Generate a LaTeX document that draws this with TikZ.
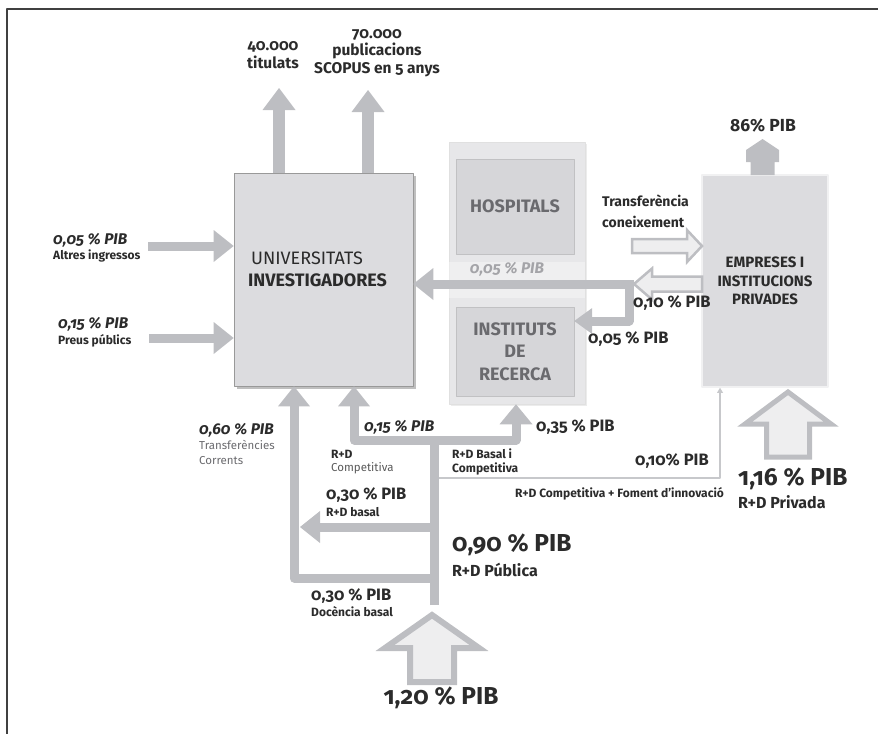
\documentclass[tikz,border=0pt]{standalone}
\usepackage{fontspec}
\setmainfont{Fira Sans}[Numbers=OldStyle]
\usetikzlibrary{arrows.meta,positioning,shadows}

\definecolor{flowgray}{HTML}{BDBEC2}
\definecolor{boxgray}{HTML}{DCDCDF}
\definecolor{palegray}{HTML}{EEEEEF}
\definecolor{colgray}{HTML}{E7E7E9}
\definecolor{innergray}{HTML}{D6D6D9}
\definecolor{ink}{HTML}{2B2B2B}
\definecolor{softink}{HTML}{6A6A6E}
\definecolor{faded}{HTML}{A4A4A8}

\tikzstyle{flow}=[draw=flowgray, line width=9pt, -{Triangle[width=32pt,length=20pt,line width=0pt]}]
\tikzstyle{flowboth}=[flow, {Triangle[width=32pt,length=20pt,line width=0pt]}-{Triangle[width=33pt,length=20pt,line width=0pt]}]
\tikzstyle{outflow}=[draw=flowgray, line width=12pt, -{Triangle[width=33pt,length=22pt,line width=0pt]}]
\tikzstyle{link}=[draw=flowgray!85, line width=1.8pt, -{Triangle[width=6pt,length=5pt,line width=0pt]}]
\tikzstyle{hollow}=[draw=flowgray, fill=palegray, line width=2.5pt, line join=miter]
\tikzstyle{unibox}=[draw=black!40, fill=boxgray, line width=.7pt, inner sep=0pt,
  minimum width=179pt, minimum height=213pt,
  drop shadow={shadow xshift=2.5pt, shadow yshift=-2.5pt, opacity=.5}]
\tikzstyle{colbox}=[draw=black!12, fill=colgray, line width=.6pt, inner sep=0pt,
  minimum width=136pt, minimum height=262pt,
  drop shadow={shadow xshift=2pt, shadow yshift=-2pt, opacity=.15}]
\tikzstyle{innerbox}=[fill=innergray, draw=innergray!90!black, line width=.4pt,
  minimum width=118pt, text=softink, align=center,
  font=\bfseries\fontsize{18}{22.5}\selectfont]
\tikzstyle{empbox}=[draw=colgray!60!white, fill=boxgray, line width=1.5pt,
  minimum width=126pt, minimum height=212pt, align=center, text=ink,
  font=\bfseries\fontsize{15}{18.5}\selectfont]
\tikzstyle{bigval}=[inner sep=0pt, text=ink, font=\bfseries\fontsize{24.5}{28}\selectfont]
\tikzstyle{midval}=[inner sep=0pt, text=ink, font=\bfseries\fontsize{16}{19}\selectfont]
\tikzstyle{val}=[inner sep=0pt, text=ink, font=\bfseries\fontsize{16.5}{19}\selectfont]
\tikzstyle{ival}=[inner sep=0pt, text=ink, font=\bfseries\itshape\fontsize{15.5}{18}\selectfont]
\tikzstyle{note}=[inner sep=0pt, text=ink, align=left, font=\bfseries\fontsize{12}{13.5}\selectfont]
\tikzstyle{lighttext}=[inner sep=0pt, text=softink, align=left, font=\fontsize{11.5}{15}\selectfont]
\tikzstyle{toplabel}=[inner sep=0pt, text=ink, align=center, font=\bfseries\fontsize{15.5}{17.5}\selectfont]

\begin{document}
\begin{tikzpicture}[x=1pt, y=-1pt, line join=round]
\useasboundingbox (0,0) rectangle (878,734);
\draw[draw=black!75, line width=1.6pt] (878,9) -- (7,9) -- (7,734);

% boxes
\node[unibox] (univ) at (323.5,279.5) {};
\node[anchor=west, inner sep=0pt, align=left, text=ink,
  font=\fontsize{18}{22}\selectfont] (univtxt) at (248,269)
  {\,UNIVERSITATS\\\textbf{INVESTIGADORES}};
\node[colbox] (col) at (517,273) {};
\fill[white, opacity=.35] (449,262) rectangle (585,298);
\node[innerbox, minimum height=95pt] (hosp) at (515,206.5) {HOSPITALS};
\node[innerbox, minimum height=89pt] (inst) at (515,351.5) {INSTITUTS\\DE\\RECERCA};
\node[empbox] (emp) at (765,281) {EMPRESES I\\INSTITUCIONS\\PRIVADES};

% outputs
\coordinate (tit) at (279,88);
\coordinate (pub) at (368,90);
\foreach \out in {tit,pub}
  \draw[outflow] (univ.north -| \out) -- (\out);
\node[toplabel] (titl) at (273,55) {40.000\\titulats};
\node[toplabel] (publ) at (377,53) {70.000\\publicacions\\SCOPUS en 5 anys};

\coordinate (pib86) at (762.5,139);
\fill[flowgray, shift={(pib86)}] (0,0) -- (16.5,11) -- (16.5,23) -- (12,23) -- (12,36)
  -- (-12,36) -- (-12,23) -- (-16.5,23) -- (-16.5,11) -- cycle;
\node[midval, font=\bfseries\fontsize{17.5}{20}\selectfont] (v86) at (763,126)
  {{\addfontfeatures{Numbers=Lining}86}\% PIB};

% inputs on the left
\coordinate (alt) at (148,246);
\coordinate (preu) at (149,338);
\foreach \src in {alt,preu}
  \draw[flow] (\src) -- (\src -| univ.west);
\node[ival, anchor=west] (altv) at (53,240) {0,05 \% PIB};
\node[note, anchor=west] (altn) at (53,256) {Altres ingressos};
\node[ival, anchor=west] (preuv) at (58,324) {0,15 \% PIB};
\node[note, anchor=west] (preun) at (58,341) {Preus públics};

% private sector exchange
\coordinate (kt) at (702,246);
\draw[hollow, shift={(kt)}] (0,0) -- (-15,-16) -- (-15,-7) -- (-70,-7) -- (-70,7)
  -- (-15,7) -- (-15,16) -- cycle;
\node[note, font=\bfseries\fontsize{14}{21}\selectfont, anchor=west] (transf) at (602,211)
  {Transferència\\coneixement};
\coordinate (back) at (634,284);
\coordinate (bend) at (629,321);
\draw[flow, -{Triangle[width=26pt,length=18pt,line width=0pt]}]
  (back -| bend) -- (bend) -- (bend -| inst.east);
\draw[flow] (back) -- (back -| univ.east);
\draw[hollow, shift={(back)}] (0,0) -- (18,-15.5) -- (18,-7.5) -- (68,-7.5) -- (68,7.5)
  -- (18,7.5) -- (18,15.5) -- cycle;
\node[ival, text=faded] (v005a) at (507,269) {0,05 \% PIB};
\node[val, anchor=west] (v010) at (633,303) {0,10 \% PIB};
\node[val, anchor=west] (v005b) at (588,339) {0,05 \% PIB};

% public funding
\coordinate (src) at (434,605);
\coordinate (split) at (434,440);
\coordinate (doc) at (294,578);
\coordinate (bas) at (434,527);
\coordinate (basend) at (300,527);
\coordinate (comp) at (354,440);
\coordinate (recs) at (516,440);
\coordinate (innov) at (720,478);
\draw[link] (split |- innov) -- (innov) -- (innov |- emp.south);
\draw[flow, -] (src) -- (split);
\draw[flow] (src |- doc) -- (doc) -- (doc |- univ.south);
\draw[flow] (bas) -- (basend);
\draw[flowboth] (comp |- univ.south) -- (comp) -- (recs) -- (recs |- col.south);

\coordinate (pub0) at (432,615);
\draw[hollow, line width=6pt, shift={(pub0)}] (0,0) -- (47,33) -- (22,33) -- (22,67)
  -- (-22,67) -- (-22,33) -- (-47,33) -- cycle;
\coordinate (priv0) at (788,392);
\draw[hollow, line width=5pt, shift={(priv0)}] (0,0) -- (43,32) -- (21.5,32) -- (21.5,65)
  -- (-21.5,65) -- (-21.5,32) -- (-43,32) -- cycle;

\node[ival, anchor=west] (v060) at (199,430) {0,60 \% PIB};
\node[lighttext, anchor=north west] (v060n) at (199,440) {Transferències\\Corrents};
\node[ival, anchor=west] (v015) at (364,427) {0,15 \% PIB};
\node[note, anchor=west] (rd1) at (331,454) {R+D};
\node[lighttext, text=black!65, anchor=west] (rd1n) at (331,468) {Competitiva};
\node[note, anchor=west] (rd2) at (452,462) {R+D Basal i\\Competitiva};
\node[val, anchor=west] (v035) at (536,427) {0,35 \% PIB};
\node[val, anchor=west] (v010b) at (635,461) {0,10\% PIB};
\node[note, anchor=west] (innovn) at (515,494) {R+D Competitiva + Foment d’innovació};
\node[bigval, anchor=west] (v116) at (738,479) {1,16 \% PIB};
\node[midval, anchor=west] (v116n) at (738,502) {R+D Privada};
\node[val, anchor=west] (v030a) at (326,495) {0,30 \% PIB};
\node[note, anchor=west] (v030an) at (326,512) {R+D basal};
\node[bigval, anchor=west] (v090) at (452,545) {0,90 \% PIB};
\node[midval, anchor=west] (v090n) at (452,570) {R+D Pública};
\node[val, anchor=west] (v030b) at (311,596) {0,30 \% PIB};
\node[note, anchor=west] (v030bn) at (311,612) {Docència basal};
\node[bigval] (v120) at (441,698) {1,20 \% PIB};
\end{tikzpicture}
\end{document}
